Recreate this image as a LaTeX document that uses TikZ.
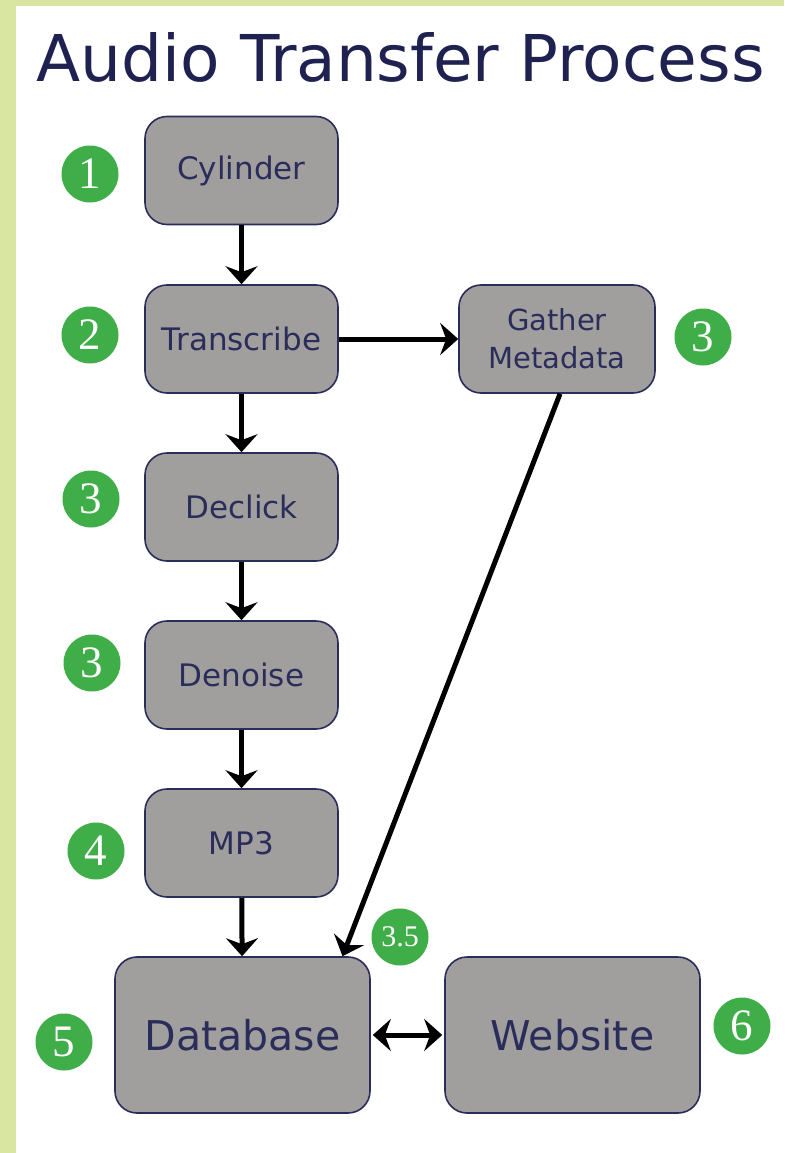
\documentclass[tikz,border=0pt]{standalone}
\usepackage{fontspec}
\usetikzlibrary{arrows.meta}
\newfontfamily\boxfont{DejaVu Sans}
\newfontfamily\numfont{Liberation Serif}
\definecolor{bordergreen}{HTML}{D9E6A2}
\definecolor{boxgray}{HTML}{A19E9E}
\definecolor{navy}{HTML}{2A2D5A}
\definecolor{titlenavy}{HTML}{1F2250}
\definecolor{badgegreen}{HTML}{3FAE49}
\tikzset{
  procbox/.style={draw=navy, line width=1.6pt, fill=boxgray, rounded corners=22pt,
    minimum width=193pt, minimum height=108pt, inner sep=0pt, align=center,
    text=navy, font=\boxfont\fontsize{31}{38}\selectfont},
  bigbox/.style={procbox, minimum width=255pt, minimum height=156pt,
    font=\boxfont\fontsize{41}{48}\selectfont},
  badge/.style={circle, fill=badgegreen, minimum size=57pt, inner sep=0pt,
    text=white, font=\numfont\fontsize{45}{45}\selectfont},
  smallbadge/.style={badge, font=\numfont\fontsize{30}{30}\selectfont},
  arr/.style={line width=5pt, -{Stealth[length=18pt,width=32pt,inset=6pt]}},
  dblarr/.style={line width=5pt, {Stealth[length=18pt,width=32pt,inset=6pt]}-{Stealth[length=18pt,width=32pt,inset=6pt]}}
}
\begin{document}
\begin{tikzpicture}[x=1pt,y=-1pt]
\useasboundingbox (0,0) rectangle (784,1153);
\fill[white] (0,0) rectangle (784,1153);
\fill[bordergreen] (0,0) rectangle (784,6);
\fill[bordergreen] (0,0) rectangle (16,1153);

\node[anchor=base west, inner sep=0pt, text=titlenavy, font=\boxfont\fontsize{64.5}{70}\selectfont] (title) at (36,82) {Audio Transfer Process};

\node[procbox] (cyl) at (241.5,170.5) {Cylinder};
\node[procbox] (tra) at (241.5,339) {Transcribe};
\node[procbox, minimum width=196pt, font=\boxfont\fontsize{29}{38}\selectfont] (gat) at (557,339) {Gather\\Metadata};
\node[procbox] (dec) at (241.5,507) {Declick};
\node[procbox] (den) at (241.5,675) {Denoise};
\node[procbox] (mp3) at (241.5,843) {MP3};
\node[bigbox] (db) at (242.5,1035) {Database};
\node[bigbox] (web) at (572.5,1035) {Website};

\node[badge] (b1) at (90,174) {1};
\node[badge] (b2) at (90,335) {2};
\node[badge] (b3g) at (703,337) {3};
\node[badge] (b3a) at (91,499) {3};
\node[badge] (b3b) at (92,663) {3};
\node[badge] (b4) at (96,851) {4};
\node[smallbadge] (b35) at (400,937) {3.5};
\node[badge] (b5) at (64,1042) {5};
\node[badge] (b6) at (742,1026) {6};

\draw[arr] (cyl) -- (tra);
\draw[arr] (tra) -- (dec);
\draw[arr] (dec) -- (den);
\draw[arr] (den) -- (mp3);
\draw[arr] (mp3) -- (db);
\draw[arr] (tra) -- (gat);
\draw[arr] ([xshift=3pt]gat.south) -- ([xshift=100pt]db.north);
\draw[dblarr] ([xshift=2pt]db.east) -- ([xshift=-2pt]web.west);
\end{tikzpicture}
\end{document}
